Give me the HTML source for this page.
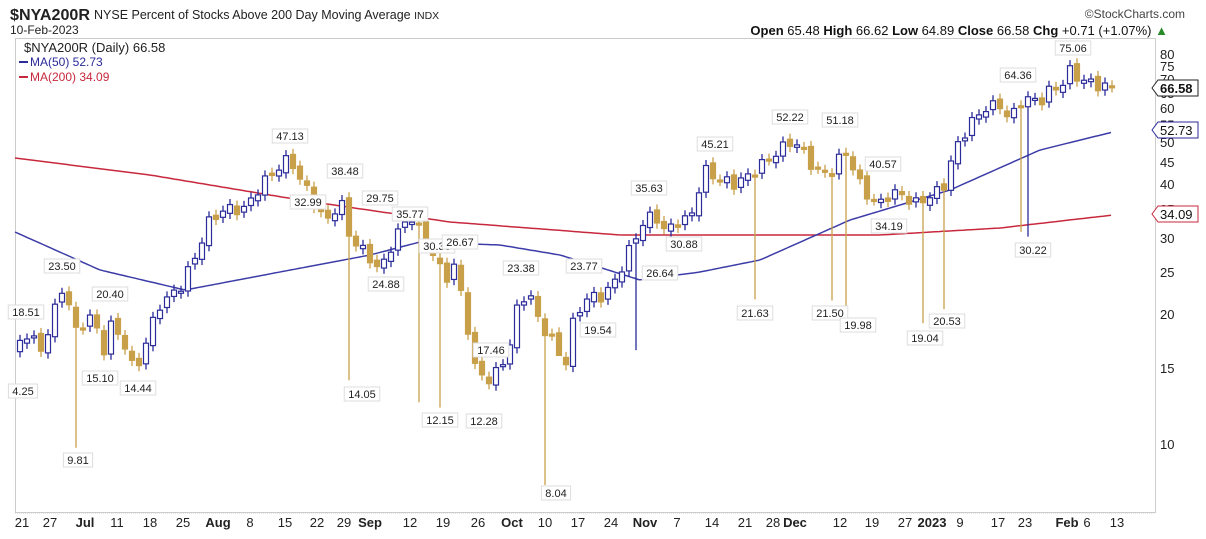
<!DOCTYPE html>
<html><head><meta charset="utf-8"><style>
body{margin:0;background:#fff;width:1206px;height:534px;overflow:hidden;font-family:"Liberation Sans",sans-serif}
svg text{font-family:"Liberation Sans",sans-serif}
</style></head><body>
<svg id="s" width="1206" height="534" xmlns="http://www.w3.org/2000/svg">
<rect width="1206" height="534" fill="#fff"/>
<text x="10" y="20" font-size="16" font-weight="bold" fill="#222" textLength="80" lengthAdjust="spacingAndGlyphs">$NYA200R</text>
<text x="94" y="19" font-size="12.5" fill="#222">NYSE Percent of Stocks Above 200 Day Moving Average <tspan font-size="10.5">INDX</tspan></text>
<text x="10" y="34" font-size="12" fill="#222">10-Feb-2023</text>
<text x="1185" y="18" font-size="12" fill="#444" text-anchor="end">©StockCharts.com</text>
<text x="1168" y="35" font-size="13" fill="#111" text-anchor="end"><tspan font-weight="bold">Open</tspan> 65.48  <tspan font-weight="bold">High</tspan> 66.62  <tspan font-weight="bold">Low</tspan> 64.89  <tspan font-weight="bold">Close</tspan> 66.58  <tspan font-weight="bold">Chg</tspan> +0.71 (+1.07%) <tspan fill="#2a8a2a">▲</tspan></text>
<rect x="15.5" y="38.5" width="1140" height="474" fill="#fff" stroke="#ccc"/>
<g id="g"></g>
<text x="24" y="52" font-size="13" fill="#222">$NYA200R (Daily) 66.58</text>
<line x1="19" y1="62" x2="28" y2="62" stroke="#2b2b9a" stroke-width="2"/><text x="30" y="66" font-size="12" fill="#2b2b9a">MA(50) 52.73</text>
<line x1="19" y1="77" x2="28" y2="77" stroke="#c8283c" stroke-width="2"/><text x="30" y="81" font-size="12" fill="#c8283c">MA(200) 34.09</text>
</svg>
<script>
const g=document.getElementById('g');let h='';
const Y=v=>54+187.6*Math.log(80/v);
[80,75,70,65,60,55,50,45,40,35,30,25,20,15,10].forEach(v=>{h+=`<text x="1160" y="${Y(v)+5}" font-size="13" fill="#222">${v}</text>`});
const ma200=[[15,158],[150,175],[300,200],[450,222],[620,235],[880,235],[1000,228],[1113,215]];
const ma50=[[15,232],[100,270],[185,290],[280,272],[370,255],[420,242],[500,245],[560,255],[640,280],[700,272],[760,260],[850,220],[950,190],[1040,150],[1113,132]];
const pl=(a,c)=>`<polyline fill="none" stroke="${c}" stroke-width="1.5" points="${a.map(p=>p.join(',')).join(' ')}"/>`;
function interp(a,x){for(let i=0;i<a.length-1;i++){if(x<=a[i+1][0]){const t=(x-a[i][0])/(a[i+1][0]-a[i][0]);return a[i][1]+t*(a[i+1][1]-a[i][1]);}}return a[a.length-1][1];}
const sm=(a)=>{let r=[];for(let x=15;x<=1113;x+=4)r.push([x,interp(a,x).toFixed(1)]);return r};
h+=pl(sm(ma200),'#c8283c')+pl(sm(ma50),'#3c3ca8');
const k=[[20,17],[30,18.5],[40,16],[65,23.5],[75,18],[95,20.4],[100,15],[110,19],[125,17],[135,14.4],[145,17],[160,21],[180,23],[195,27],[210,33],[225,35],[245,35],[262,40],[280,44],[290,46],[300,41],[310,38],[320,34],[330,33],[340,37],[350,30],[370,27],[380,25],[395,30],[410,34],[420,31],[435,27],[445,24],[455,26],[465,20],[475,15],[490,14],[500,15],[510,17],[520,22],[530,22],[540,19],[555,17],[565,15],[575,20],[590,22],[605,22],[620,25],[635,30],[645,33],[655,34],[665,31],[680,33],[690,33],[705,43],[720,41],[735,40],[750,42],[765,45],[775,47],[790,50],[800,49],[815,43],[830,42],[845,48],[860,40],[870,37],[880,36],[890,38],[900,38],[915,36],[935,38],[945,40],[955,48],[970,55],[985,60],[1000,61],[1010,56],[1020,62],[1030,63],[1040,62],[1050,66],[1060,67],[1070,73],[1080,70],[1095,68],[1115,66.6]];
const wick={78:9.81,352:14.05,418:12.5,443:12.15,547:8.04,556:17,638:16.5,752:21.63,832:21.5,848:19.98,925:19.04,945:20.53,1018:31,1030:30.22};
let prev=interp(k,16),i=0;
for(let x=20;x<=1113;x+=7){i++;let c=interp(k,x)*(1+0.03*Math.sin(i*2.3));let o=prev*(1+0.015*Math.cos(i*1.7));
 let up=c>=o;let col=up?'#2b2b9a':'#c9a04a';
 let hi=Math.max(o,c)*1.03,lo=Math.min(o,c)*0.97;
 for(const w in wick){if(Math.abs(w-x)<=3)lo=wick[w];}
 h+=`<line x1="${x}" y1="${Y(hi)}" x2="${x}" y2="${Y(lo)}" stroke="${col}" stroke-width="1.3"/>`;
 let t=Y(Math.max(o,c)),b=Y(Math.min(o,c));if(b-t<2)b=t+2;
 h+=`<rect x="${x-2.5}" y="${t}" width="5" height="${b-t}" fill="${up?'#fff':col}" stroke="${col}" stroke-width="1.2"/>`;
 prev=c;}
const lab=[[23,395,'4.25'],[26,316,'18.51'],[62,270,'23.50'],[78,464,'9.81'],[110,298,'20.40'],[100,382,'15.10'],[138,392,'14.44'],[290,140,'47.13'],[345,175,'38.48'],[308,206,'32.99'],[380,202,'29.75'],[410,218,'35.77'],[437,250,'30.36'],[386,288,'24.88'],[362,398,'14.05'],[460,246,'26.67'],[440,424,'12.15'],[491,354,'17.46'],[484,425,'12.28'],[521,272,'23.38'],[556,497,'8.04'],[584,270,'23.77'],[598,334,'19.54'],[649,192,'35.63'],[684,248,'30.88'],[660,277,'26.64'],[715,148,'45.21'],[790,121,'52.22'],[840,124,'51.18'],[755,317,'21.63'],[830,317,'21.50'],[858,329,'19.98'],[883,168,'40.57'],[889,230,'34.19'],[925,342,'19.04'],[947,325,'20.53'],[1018,79,'64.36'],[1033,254,'30.22'],[1073,52,'75.06']];
lab.forEach(([x,y,t])=>{const w=t.length*6.3+4;h+=`<rect x="${x-w/2}" y="${y-11}" width="${w}" height="14" fill="#fff" stroke="#ddd"/><text x="${x}" y="${y}" font-size="11" fill="#222" text-anchor="middle">${t}</text>`});
const tag=(y,t,c,b)=>{h+=`<path d="M1152 ${y} l6 -8 h40 v16 h-40 z" fill="#fff" stroke="${c}"/><text x="1160" y="${y+5}" font-size="13" fill="#111" ${b?'font-weight="bold"':''}>${t}</text>`};
tag(88,'66.58','#222',1);tag(130,'52.73','#2b2b9a');tag(214,'34.09','#c8283c');
const xl=[[22,'21'],[50,'27'],[85,'Jul',1],[117,'11'],[150,'18'],[183,'25'],[218,'Aug',1],[250,'8'],[285,'15'],[317,'22'],[344,'29'],[370,'Sep',1],[410,'12'],[443,'19'],[478,'26'],[512,'Oct',1],[545,'10'],[578,'17'],[611,'24'],[645,'Nov',1],[677,'7'],[712,'14'],[745,'21'],[773,'28'],[795,'Dec',1],[840,'12'],[872,'19'],[905,'27'],[932,'2023',1],[960,'9'],[998,'17'],[1025,'23'],[1067,'Feb',1],[1087,'6'],[1117,'13']];
xl.forEach(([x,t,b])=>{h+=`<text x="${x}" y="527" font-size="13" fill="#222" text-anchor="middle" ${b?'font-weight="bold"':''}>${t}</text>`});
h+=`<line x1="15" y1="513" x2="1155" y2="513" stroke="#ccc" stroke-dasharray="1,1"/>`;
g.innerHTML=h;
</script>
</body></html>
